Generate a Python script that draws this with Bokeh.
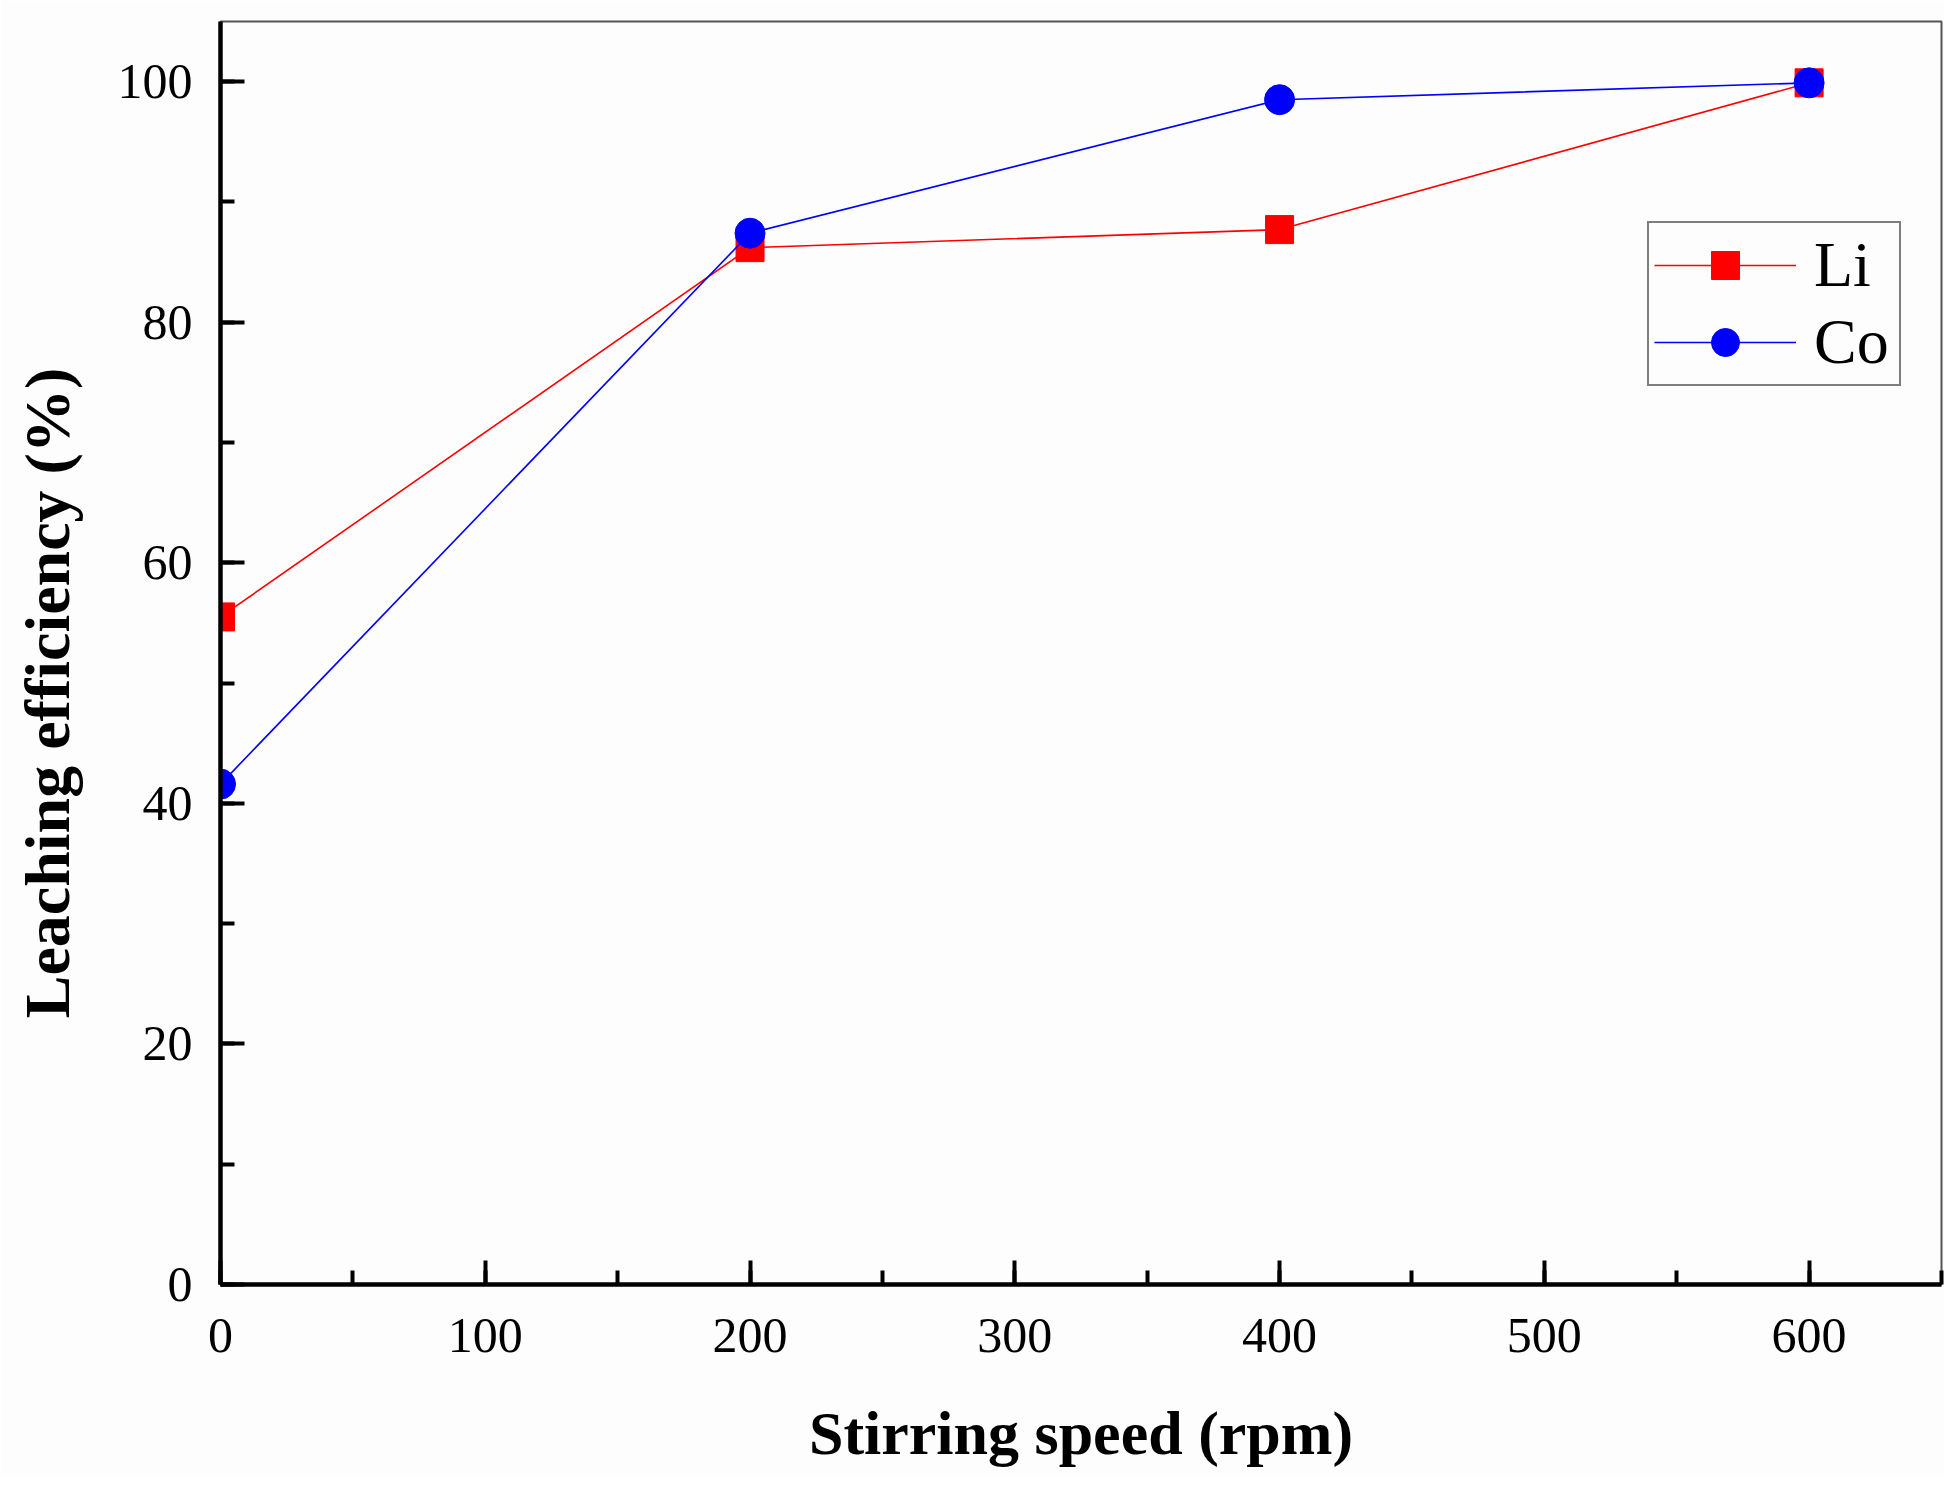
from bokeh.plotting import figure
from bokeh.models import ColumnDataSource, Legend, LegendItem, SingleIntervalTicker, Range1d
from bokeh.embed import file_html
from bokeh.resources import INLINE

# Data
speed = [0, 200, 400, 600]
li_eff = [55.5, 86.2, 87.7, 99.9]
co_eff = [41.6, 87.4, 98.5, 99.9]

FONT = "Liberation Serif"

p = figure(
    width=1944, height=1477,
    x_range=Range1d(0, 650), y_range=Range1d(0, 105),
    toolbar_location=None, tools="",
    min_border_left=220, min_border_right=3,
    min_border_top=21, min_border_bottom=193,
)
p.output_backend = "svg"
p.background_fill_color = "#fdfdfd"
p.border_fill_color = "#fdfdfd"
p.outline_line_color = "#555555"
p.outline_line_width = 2

p.xgrid.grid_line_color = None
p.ygrid.grid_line_color = None

p.xaxis.ticker = SingleIntervalTicker(interval=100, num_minor_ticks=2)
p.yaxis.ticker = SingleIntervalTicker(interval=20, num_minor_ticks=2)

for ax in (p.xaxis, p.yaxis):
    ax.axis_line_width = 4.5
    ax.axis_line_color = "black"
    ax.major_tick_in = 24
    ax.major_tick_out = 0
    ax.minor_tick_in = 14
    ax.minor_tick_out = 0
    ax.major_tick_line_width = 4
    ax.minor_tick_line_width = 4
    ax.major_tick_line_color = "black"
    ax.minor_tick_line_color = "black"
    ax.major_label_text_font = FONT
    ax.major_label_text_font_size = "50px"
    ax.major_label_text_color = "black"
    ax.axis_label_text_font = FONT
    ax.axis_label_text_font_style = "bold"
    ax.axis_label_text_color = "black"

p.xaxis.major_label_standoff = 34
p.xaxis.axis_label_standoff = 44
p.xaxis.axis_label_text_font_size = "62px"
p.yaxis.major_label_standoff = 28
p.yaxis.axis_label_standoff = 32
p.yaxis.axis_label_text_font_size = "64px"

p.xaxis.axis_label = "Stirring speed (rpm)"
# the y title sits a bit below the middle of the axis in the original;
# a few trailing no-break spaces push the centred text down
p.yaxis.axis_label = "Leaching efficiency (%)" + "\u00a0" * 5

src = ColumnDataSource(dict(speed=speed, li=li_eff, co=co_eff))

li_line = p.line("speed", "li", source=src, line_color="red", line_width=1.6)
li_pts = p.scatter("speed", "li", source=src, marker="square", size=28,
                   fill_color="red", line_color="red")
co_line = p.line("speed", "co", source=src, line_color="blue", line_width=1.6)
co_pts = p.scatter("speed", "co", source=src, marker="circle", size=30,
                   fill_color="blue", line_color="blue")

legend = Legend(
    items=[
        LegendItem(label="Li", renderers=[li_line, li_pts]),
        LegendItem(label="Co", renderers=[co_line, co_pts]),
    ],
    location=(1427, 898),
    glyph_width=142, glyph_height=70,
    spacing=3, padding=5, margin=0,
    label_standoff=18, label_width=80,
    label_text_font=FONT, label_text_font_size="64px",
    label_text_color="black",
    border_line_color="black", border_line_width=2,
    background_fill_color="#fdfdfd", background_fill_alpha=1.0,
)
p.add_layout(legend, "center")

open("out.html", "w").write(file_html(p, INLINE))
